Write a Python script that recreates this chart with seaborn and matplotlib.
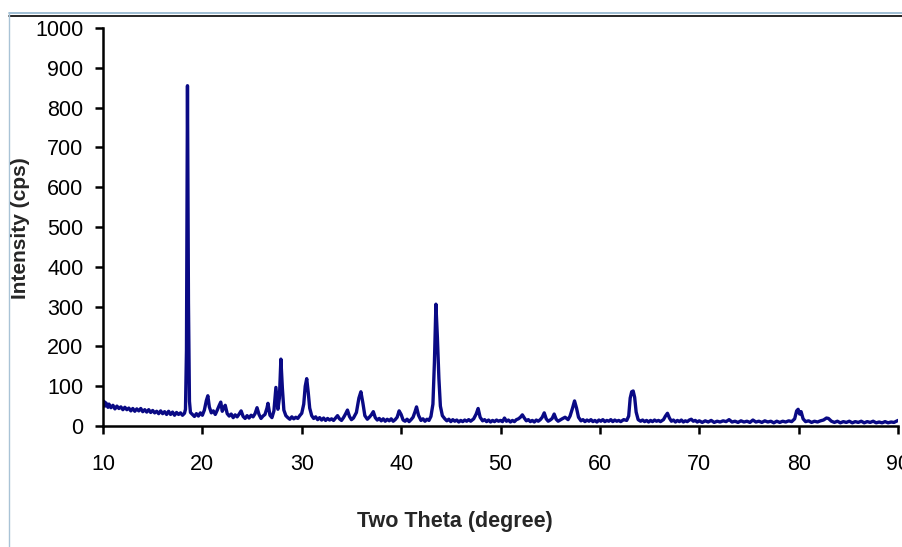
import matplotlib
matplotlib.use('Agg')
import matplotlib.pyplot as plt
import seaborn as sns
import pandas as pd
from matplotlib.lines import Line2D

# XRD scan, (two theta, intensity cps)
low_angle = [(10.0, 52), (10.1, 62), (10.2, 50), (10.3, 58), (10.5, 47), (10.6, 55), (10.8, 46), (11.0, 52),
             (11.2, 43), (11.4, 50), (11.6, 44), (11.8, 48), (12.0, 41), (12.2, 47), (12.4, 41), (12.6, 45),
             (12.8, 38), (13.0, 44), (13.2, 37), (13.4, 43), (13.6, 38), (13.8, 44), (14.0, 36), (14.2, 41),
             (14.4, 35), (14.6, 41), (14.8, 34), (15.0, 39), (15.2, 33), (15.4, 37), (15.6, 31), (15.8, 38),
             (16.0, 31), (16.2, 36), (16.4, 29), (16.6, 37), (16.8, 29), (17.0, 35), (17.2, 27), (17.4, 34),
             (17.6, 29), (17.8, 33), (18.0, 27), (18.2, 32), (18.3, 42), (18.4, 190), (18.5, 855), (18.6, 310),
             (18.7, 62), (18.8, 34)]

mid_angle = [(19.0, 29), (19.2, 24), (19.4, 31), (19.6, 25), (19.8, 33), (20.0, 27), (20.2, 40), (20.4, 64),
             (20.55, 76), (20.7, 48), (20.9, 33), (21.1, 38), (21.3, 29), (21.5, 40), (21.7, 52), (21.85, 60),
             (22.0, 37), (22.15, 45), (22.3, 52), (22.5, 31), (22.7, 25), (22.9, 30), (23.1, 21), (23.3, 28),
             (23.5, 23), (23.7, 30), (23.9, 38), (24.1, 24), (24.3, 19), (24.5, 26), (24.7, 20), (24.9, 27),
             (25.1, 23), (25.3, 31), (25.5, 46), (25.7, 29), (25.9, 19), (26.1, 25), (26.3, 29), (26.5, 45),
             (26.6, 57), (26.8, 27), (27.0, 21), (27.2, 38), (27.4, 97), (27.6, 42), (27.75, 70), (27.9, 168),
             (28.05, 95), (28.2, 40), (28.4, 26), (28.6, 21), (28.8, 17), (29.0, 23), (29.2, 18), (29.4, 22),
             (29.6, 19), (29.8, 26), (30.0, 32), (30.2, 55), (30.35, 100), (30.5, 119), (30.65, 85), (30.8, 45),
             (31.0, 26)]

wide_angle = [(31.2, 19), (31.4, 23), (31.6, 16), (31.8, 21), (32.0, 15), (32.2, 20), (32.4, 14), (32.6, 19),
              (32.8, 15), (33.0, 18), (33.2, 14), (33.4, 20), (33.6, 26), (33.8, 18), (34.0, 14), (34.2, 21),
              (34.4, 30), (34.6, 40), (34.8, 24), (35.0, 16), (35.2, 20), (35.5, 34), (35.75, 70), (35.95, 86),
              (36.15, 58), (36.35, 26), (36.6, 17), (36.8, 22), (37.0, 28), (37.2, 36), (37.4, 21), (37.6, 15),
              (37.8, 19), (38.0, 13), (38.2, 18), (38.4, 12), (38.6, 17), (38.8, 13), (39.0, 18), (39.2, 12),
              (39.4, 16), (39.6, 22), (39.8, 38), (40.0, 29), (40.2, 15), (40.4, 12), (40.6, 17), (40.8, 11),
              (41.0, 16), (41.2, 22), (41.4, 36), (41.55, 48), (41.75, 27), (42.0, 14), (42.2, 18), (42.4, 12),
              (42.6, 17), (42.8, 14), (43.0, 24), (43.2, 55), (43.35, 160), (43.5, 306), (43.65, 222), (43.8, 120),
              (43.95, 50), (44.15, 26), (44.4, 18), (44.6, 13), (44.8, 17), (45.0, 11), (45.2, 16), (45.4, 12),
              (45.6, 15), (45.8, 10), (46.0, 14), (46.2, 11), (46.4, 15), (46.6, 12), (46.8, 16), (47.0, 12),
              (47.3, 18), (47.55, 30), (47.75, 44), (47.95, 22), (48.2, 13), (48.4, 16), (48.6, 11), (48.8, 15),
              (49.0, 10), (49.2, 14), (49.4, 11), (49.6, 15), (49.8, 12), (50.0, 14)]

high_angle = [(50.2, 11), (50.4, 20), (50.6, 12), (50.8, 15), (51.0, 10), (51.2, 14), (51.4, 11), (51.6, 16),
              (51.8, 18), (52.0, 22), (52.2, 28), (52.4, 20), (52.6, 13), (52.8, 16), (53.0, 11), (53.2, 14),
              (53.4, 10), (53.6, 15), (53.8, 12), (54.0, 16), (54.2, 22), (54.4, 33), (54.6, 18), (54.8, 12),
              (55.0, 15), (55.2, 19), (55.4, 30), (55.6, 17), (55.8, 12), (56.0, 15), (56.2, 18), (56.5, 22),
              (56.8, 16), (57.0, 25), (57.25, 45), (57.45, 63), (57.65, 45), (57.85, 22), (58.1, 13), (58.3, 16),
              (58.5, 11), (58.7, 15), (58.9, 12), (59.1, 16), (59.3, 11), (59.5, 14), (59.7, 10), (59.9, 15),
              (60.1, 12), (60.3, 16), (60.5, 11), (60.7, 14), (60.9, 12), (61.1, 16), (61.3, 11), (61.5, 15),
              (61.7, 12), (61.9, 14), (62.1, 11), (62.4, 16), (62.7, 14), (62.9, 25), (63.05, 70), (63.2, 86),
              (63.35, 88), (63.5, 72), (63.65, 35), (63.85, 16), (64.1, 12), (64.3, 15), (64.5, 11), (64.7, 14),
              (64.9, 10), (65.1, 14), (65.3, 11), (65.5, 15), (65.7, 12), (65.9, 14), (66.1, 11), (66.4, 16),
              (66.6, 25), (66.8, 32), (67.0, 20), (67.2, 12), (67.4, 15), (67.6, 10), (67.8, 14), (68.0, 11),
              (68.2, 15), (68.4, 10), (68.6, 13), (68.8, 11), (69.0, 15), (69.2, 17), (69.4, 12), (69.6, 14),
              (69.8, 10)]

tail_angle = [(70.0, 13), (70.3, 9), (70.6, 13), (70.9, 10), (71.2, 14), (71.5, 9), (71.8, 12), (72.1, 10),
              (72.4, 13), (72.7, 11), (73.0, 16), (73.3, 10), (73.6, 12), (73.9, 9), (74.2, 13), (74.5, 10),
              (74.8, 12), (75.1, 9), (75.4, 15), (75.7, 10), (76.0, 12), (76.3, 9), (76.6, 13), (76.9, 10),
              (77.2, 12), (77.5, 8), (77.8, 12), (78.1, 9), (78.4, 12), (78.7, 10), (79.0, 13), (79.3, 11),
              (79.6, 18), (79.8, 38), (79.95, 42), (80.1, 30), (80.25, 36), (80.45, 18), (80.7, 11), (81.0, 13),
              (81.3, 9), (81.6, 12), (81.9, 10), (82.2, 13), (82.5, 15), (82.8, 20), (83.0, 19), (83.3, 12),
              (83.6, 9), (83.9, 12), (84.2, 8), (84.5, 11), (84.8, 9), (85.1, 12), (85.4, 8), (85.7, 11),
              (86.0, 9), (86.3, 12), (86.6, 8), (86.9, 11), (87.2, 9), (87.5, 12), (87.8, 8), (88.1, 10),
              (88.4, 8), (88.7, 11), (89.0, 8), (89.3, 10), (89.6, 9), (90.0, 14)]

x_ticks = [10, 20, 30, 40, 50, 60, 70, 80, 90]
y_ticks = [0, 100, 200, 300, 400, 500, 600, 700, 800, 900, 1000]

scan = pd.DataFrame(low_angle + mid_angle + wide_angle + high_angle + tail_angle,
                    columns=['two_theta', 'cps'])

sns.set_style('ticks')
plt.rcParams['font.family'] = ['Liberation Sans', 'DejaVu Sans']

fig = plt.figure(figsize=(9.02, 5.47), dpi=100)
ax = fig.add_axes([103 / 902, 1 - 426 / 547, 795 / 902, 398 / 547])

sns.lineplot(data=scan, x='two_theta', y='cps', ax=ax, color='#0a0a85',
             linewidth=2.4, estimator=None, sort=False)

ax.set_xlim(10, 90)
ax.set_ylim(0, 1000)
ax.set_xticks(x_ticks)
ax.set_yticks(y_ticks)
ax.set_xlabel('')
ax.set_ylabel('')

sns.despine(ax=ax)
for side in ['left', 'bottom']:
    ax.spines[side].set_linewidth(1.8)
    ax.spines[side].set_color('black')
ax.tick_params(direction='out', length=6, width=1.8, labelsize=15.5, colors='black')
ax.tick_params(axis='x', pad=14)
ax.tick_params(axis='y', pad=8)

fig.text(21 / 902, 1 - 228 / 547, 'Intensity (cps)', rotation=90, ha='center', va='center',
         fontsize=15, fontweight='bold')
fig.text(455 / 902, 1 - 522 / 547, 'Two Theta (degree)', ha='center', va='center',
         fontsize=15.5, fontweight='bold', family=['Liberation Sans Narrow', 'Liberation Sans'])

# frame lines of the screenshot
fig.add_artist(Line2D([9 / 902, 1], [1 - 13 / 547] * 2, color='#8fb3cc', linewidth=1.2))
fig.add_artist(Line2D([9 / 902, 1], [1 - 15.5 / 547] * 2, color='black', linewidth=1.2))
fig.add_artist(Line2D([9 / 902] * 2, [0, 1 - 13 / 547], color='#a9c3d6', linewidth=1.0))

fig.savefig('out.png', dpi=100)
